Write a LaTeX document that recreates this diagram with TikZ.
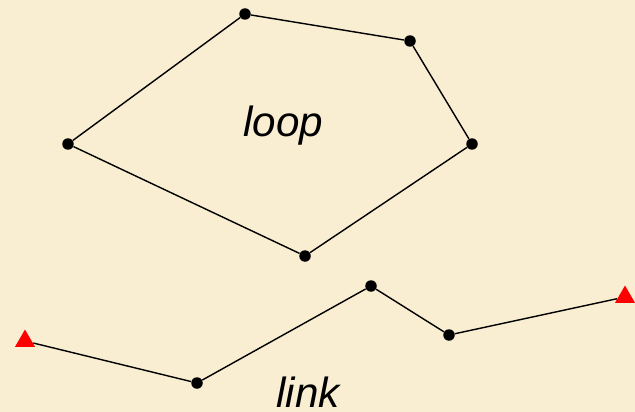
\documentclass[tikz,border=0pt]{standalone}
\usepackage{fontspec}
\setmainfont{Liberation Sans}
\usetikzlibrary{shapes.geometric}
\definecolor{parchment}{RGB}{249,237,210}
\tikzset{%
	vertex/.style = { circle, fill=black, inner sep=0pt, minimum size=0.23cm },
	endpoint/.style = { regular polygon, regular polygon sides=3, fill=red, inner sep=0pt, minimum size=0.46cm },
	edge/.style = { black, line width=0.8pt },
	caption/.style = { font=\itshape\fontsize{24}{28}\selectfont, inner sep=0pt, anchor=base west }
}
\begin{document}
\begin{tikzpicture}[x=0.02cm, y=-0.02cm]
	% background
	\fill[parchment] (0,0) rectangle (635,412);
	\useasboundingbox (0,0) rectangle (635,412);

	% loop
	\node[vertex] (l1) at (68,144) {};
	\node[vertex] (l2) at (245,14) {};
	\node[vertex] (l3) at (410,41) {};
	\node[vertex] (l4) at (472,144) {};
	\node[vertex] (l5) at (305,256) {};
	\draw[edge] (l1) -- (l2) -- (l3) -- (l4) -- (l5) -- (l1);
	\node[caption] (looptext) at (243,136) {loop};

	% link
	\node[endpoint] (k0) at (25,341) {};
	\node[vertex] (k1) at (197,383) {};
	\node[vertex] (k2) at (371,286) {};
	\node[vertex] (k3) at (449,335) {};
	\node[endpoint] (k4) at (625,297) {};
	\draw[edge] (k0) -- (k1) -- (k2) -- (k3) -- (k4);
	\node[caption] (linktext) at (276,407) {link};
\end{tikzpicture}
\end{document}
